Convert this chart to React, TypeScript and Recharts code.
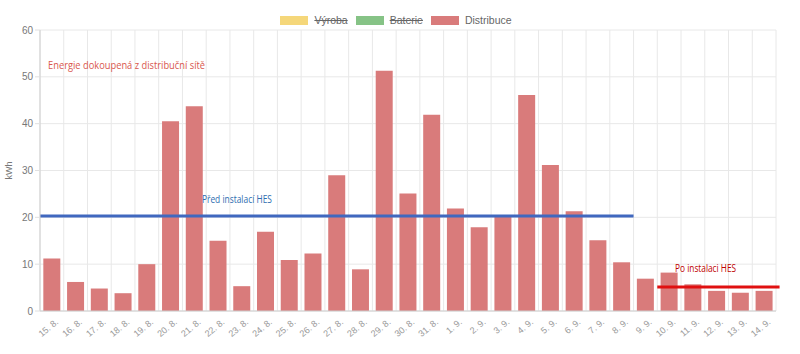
import React from 'react';
import { BarChart, Bar, XAxis, YAxis, CartesianGrid, ReferenceLine, ReferenceDot } from 'recharts';

const days = ['15. 8.', '16. 8.', '17. 8.', '18. 8.', '19. 8.', '20. 8.', '21. 8.', '22. 8.', '23. 8.', '24. 8.', '25. 8.', '26. 8.', '27. 8.', '28. 8.', '29. 8.', '30. 8.', '31. 8.', '1. 9.', '2. 9.', '3. 9.', '4. 9.', '5. 9.', '6. 9.', '7. 9.', '8. 9.', '9. 9.', '10. 9.', '11. 9.', '12. 9.', '13. 9.', '14. 9.'];
const distribuce = [11.2, 6.2, 4.8, 3.8, 10.0, 40.5, 43.7, 15.0, 5.3, 16.9, 10.9, 12.3, 29.0, 8.9, 51.3, 25.1, 41.9, 21.9, 17.9, 20.1, 46.1, 31.2, 21.3, 15.1, 10.4, 6.9, 8.2, 5.7, 4.3, 3.9, 4.3];
const yTicks = [0, 10, 20, 30, 40, 50, 60];
const legendItems = [
  { name: 'Výroba', color: '#f5d77a', hidden: true },
  { name: 'Baterie', color: '#86c386', hidden: true },
  { name: 'Distribuce', color: '#d97b7b', hidden: false },
];
const beforeAvg = 20.3;
const afterAvg = 5.1;
const beforeSpan = [0, 25];
const afterSpan = [26, 31.15];
const slotTicks = Array.from({ length: days.length + 1 }, (_, i) => i);

const annotations = [
  { text: 'Energie dokoupená z distribuční sítě', x: 0.34, y: 52.6, color: '#d9574e', size: 11, len: 157 },
  { text: 'Před instalací  HES', x: 6.82, y: 23.9, color: '#2f6db0', size: 10.5, len: 70 },
  { text: 'Po instalaci HES', x: 26.75, y: 9.2, color: '#c00000', size: 10.5, len: 61 },
];

const data = days.map((d, i) => ({ day: d, pos: i + 0.5, distribuce: distribuce[i] }));

const txtFont = '"Open Sans", "Liberation Sans", sans-serif';

export default function App() {
  return (
    <div style={{ position: 'absolute', left: 0, top: 0, width: 800, height: 354, background: '#fff' }}>
      <div style={{ position: 'absolute', top: 14, left: 0, width: 800, display: 'flex', justifyContent: 'center', fontFamily: '"Liberation Sans", Arial, sans-serif', fontSize: 10.5, color: '#666' }}>
        {legendItems.map((it) => (
          <div key={it.name} style={{ display: 'flex', alignItems: 'center', marginRight: 8 }}>
            <span style={{ display: 'inline-block', width: 28, height: 9, background: it.color, marginRight: 6 }} />
            <span style={{ textDecoration: it.hidden ? 'line-through' : 'none' }}>{it.name}</span>
          </div>
        ))}
      </div>
      <BarChart width={800} height={354} data={data} margin={{ top: 30, right: 24, bottom: 0, left: 0 }} barCategoryGap="14%">
        <XAxis xAxisId="num" dataKey="pos" type="number" domain={[0, days.length]} ticks={slotTicks} hide allowDataOverflow />
        <CartesianGrid xAxisId="num" stroke="#e8e8e8" />
        <XAxis
          dataKey="day"
          interval={0}
          height={43}
          tickLine={false}
          axisLine={{ stroke: '#cfcfcf' }}
          tick={{ fontSize: 9, fill: '#999', fontFamily: '"Liberation Sans", Arial, sans-serif' }}
          angle={-40}
          textAnchor="end"
          dx={3}
          dy={-1}
        />
        <YAxis
          width={40}
          domain={[0, 60]}
          ticks={yTicks}
          interval={0}
          axisLine={{ stroke: '#cfcfcf' }}
          tickLine={{ stroke: '#e0e0e0' }}
          tickSize={5}
          tick={{ fontSize: 10, fill: '#777', fontFamily: '"Liberation Sans", Arial, sans-serif' }}
          label={{ value: 'kWh', angle: -90, position: 'insideLeft', offset: 9, style: { fontSize: 9, fill: '#777', fontFamily: '"Liberation Sans", Arial, sans-serif', textAnchor: 'middle' } }}
        />
        <Bar dataKey="distribuce" fill="#d97b7b" isAnimationActive={false} />
        <ReferenceLine
          xAxisId="num"
          segment={[{ x: beforeSpan[0], y: beforeAvg }, { x: beforeSpan[1], y: beforeAvg }]}
          stroke="#4068bf"
          strokeWidth={3}
          ifOverflow="visible"
        />
        <ReferenceLine
          xAxisId="num"
          segment={[{ x: afterSpan[0], y: afterAvg }, { x: afterSpan[1], y: afterAvg }]}
          stroke="#e01010"
          strokeWidth={3}
          ifOverflow="visible"
        />
        {annotations.map((a) => (
          <ReferenceDot
            key={a.text}
            xAxisId="num"
            x={a.x}
            y={a.y}
            r={0}
            ifOverflow="visible"
            shape={(p: any) => (
              <text
                x={p.cx}
                y={p.cy}
                dominantBaseline="central"
                fill={a.color}
                fontSize={a.size}
                fontFamily={txtFont}
                textLength={a.len}
                lengthAdjust="spacingAndGlyphs"
              >
                {a.text}
              </text>
            )}
          />
        ))}
      </BarChart>
    </div>
  );
}
